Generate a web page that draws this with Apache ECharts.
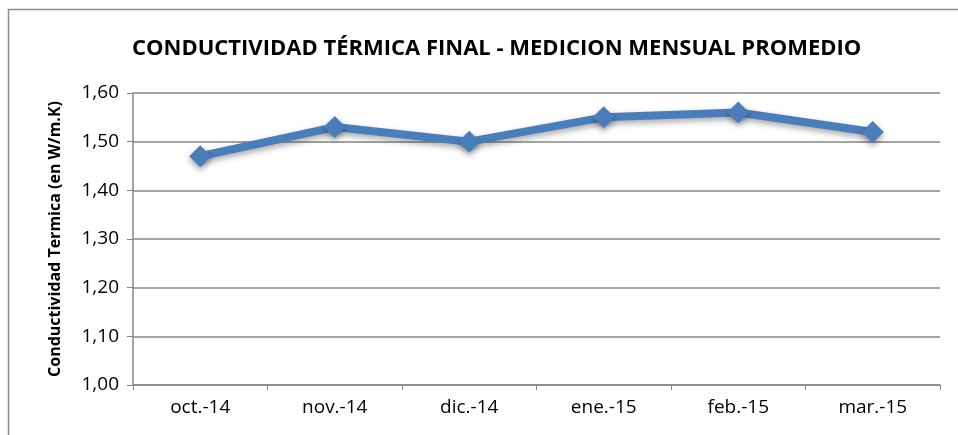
<!DOCTYPE html>
<html>
<head>
<meta charset="utf-8">
<script src="https://cdn.jsdelivr.net/npm/echarts@6/dist/echarts.min.js"></script>
<style>
  html, body { margin: 0; padding: 0; background: #fff; }
  #chart { width: 958px; height: 435px; }
</style>
</head>
<body>
<div id="chart"></div>
<script>
  // datos
  const months = ['oct.-14', 'nov.-14', 'dic.-14', 'ene.-15', 'feb.-15', 'mar.-15']
  const conductividad = [1.47, 1.53, 1.50, 1.55, 1.56, 1.52]

  const chart = echarts.init(document.getElementById('chart'))
  const axisColor = '#868686'
  const font = 'Open Sans'

  chart.setOption({
    animation: false,
    title: {
      text: 'CONDUCTIVIDAD TÉRMICA FINAL - MEDICION MENSUAL PROMEDIO',
      left: 127,
      top: 33,
      textStyle: { fontFamily: font, fontSize: 22, fontWeight: 'bold', color: '#000' }
    },
    // marco del gráfico (solo arriba e izquierda visibles)
    graphic: [
      { type: 'line', shape: { x1: 8, y1: 9.5, x2: 958, y2: 9.5 }, style: { stroke: '#8c8c8c', lineWidth: 1.5 } },
      { type: 'line', shape: { x1: 8.5, y1: 9, x2: 8.5, y2: 435 }, style: { stroke: '#8c8c8c', lineWidth: 1.5 } }
    ],
    grid: { left: 133, right: 18, top: 93, bottom: 50 },
    xAxis: {
      type: 'category',
      data: months,
      boundaryGap: true,
      axisLine: { lineStyle: { color: axisColor, width: 1.5 } },
      axisTick: { show: true, length: 5, lineStyle: { color: axisColor } },
      axisLabel: { color: '#000', fontFamily: font, fontSize: 19, margin: 13 }
    },
    yAxis: {
      type: 'value',
      min: 1.0,
      max: 1.6,
      interval: 0.1,
      name: 'Conductividad Termica (en W/m.K)',
      nameLocation: 'middle',
      nameGap: 70,
      nameTextStyle: { fontFamily: font, fontSize: 16, fontWeight: 'bold', color: '#000' },
      axisLine: { show: true, lineStyle: { color: axisColor, width: 1.5 } },
      axisTick: { show: true, length: 6, lineStyle: { color: axisColor } },
      splitLine: { lineStyle: { color: axisColor, width: 1.5 } },
      axisLabel: {
        color: '#000', fontFamily: font, fontSize: 19, margin: 14,
        formatter: v => v.toFixed(2).replace('.', ',')
      }
    },
    series: [{
      type: 'line',
      data: conductividad,
      symbol: 'diamond',
      symbolSize: 22,
      lineStyle: {
        color: '#4a7ebb', width: 8,
        shadowColor: 'rgba(0,0,0,0.35)', shadowBlur: 6, shadowOffsetY: 3
      },
      itemStyle: {
        color: '#4a7ebb', borderWidth: 0,
        shadowColor: 'rgba(0,0,0,0.4)', shadowBlur: 6, shadowOffsetY: 3
      }
    }]
  })
</script>
</body>
</html>
